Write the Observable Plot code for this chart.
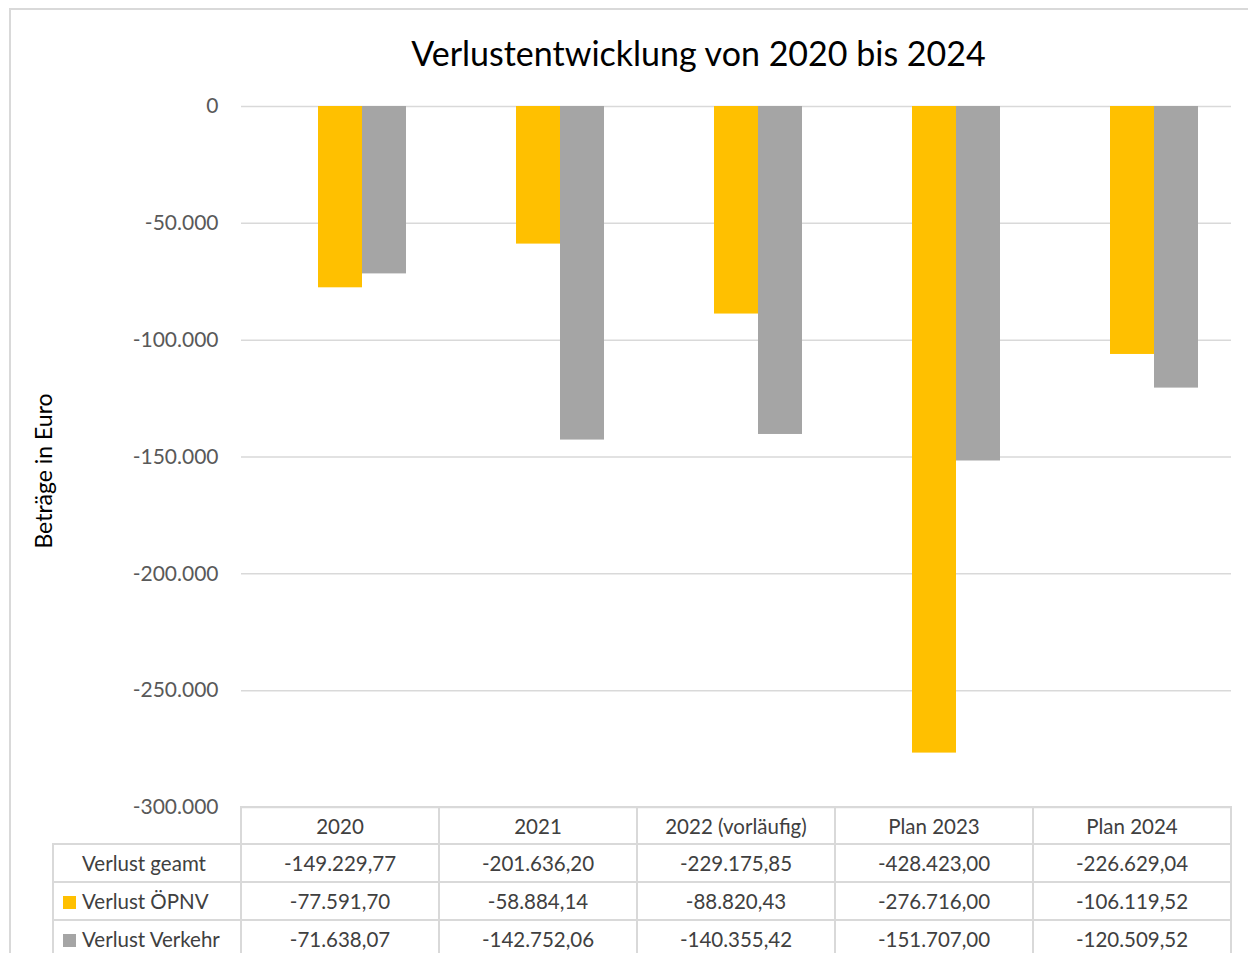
<!DOCTYPE html>
<html>
<head>
<meta charset="utf-8">
<script src="https://cdn.jsdelivr.net/npm/d3@7"></script>
<script src="https://cdn.jsdelivr.net/npm/@observablehq/plot@0.6"></script>
<style>
  html, body { margin: 0; padding: 0; background: #fff; }
  #wrap { position: relative; width: 1248px; height: 953px; overflow: hidden; background: #fff; font-family: Lato, "Open Sans", sans-serif; }
  #frame { position: absolute; left: 9px; top: 8px; width: 1400px; height: 1200px; border: 2px solid #d9d9d9; box-sizing: border-box; }
  #title { position: absolute; left: 0; top: 33px; width: 1397px; text-align: center; font-size: 34px; line-height: 1.2; color: #000; white-space: nowrap; }
  #ylabel { position: absolute; left: 44px; top: 471px; transform: translate(-50%, -50%) rotate(-90deg); font-size: 23px; line-height: 1.2; color: #000; white-space: nowrap; }
  #chart { position: absolute; left: 0; top: 0; }
  #tbl { position: absolute; left: 52px; top: 806px; border-collapse: collapse; table-layout: fixed; font-size: 20.5px; color: #404040; }
  #tbl td { border: 2px solid #d9d9d9; text-align: center; padding: 0; white-space: nowrap; }
  #tbl tr.head td { height: 35px; }
  #tbl tr.body td { height: 36px; }
  #tbl td.corner { border-top: none; border-left: none; }
  #tbl td.lab { text-align: left; padding-left: 9px; }
  .key { display: inline-block; width: 13px; height: 13px; margin-right: 6px; vertical-align: 0px; }
</style>
</head>
<body>
<div id="wrap">
  <div id="frame"></div>
  <div id="chart"></div>
  <div id="title"></div>
  <div id="ylabel"></div>
  <table id="tbl"></table>
</div>
<script>
const titleText = "Verlustentwicklung von 2020 bis 2024";
const yLabelText = "Beträge in Euro";
const categories = ["2020", "2021", "2022 (vorläufig)", "Plan 2023", "Plan 2024"];
const seriesNames = ["Verlust ÖPNV", "Verlust Verkehr"];
const totalLabel = "Verlust geamt";
const opnv = [-77591.70, -58884.14, -88820.43, -276716.00, -106119.52];
const verkehr = [-71638.07, -142752.06, -140355.42, -151707.00, -120509.52];
const gesamt = [-149229.77, -201636.20, -229175.85, -428423.00, -226629.04];
const yTicks = [0, -50000, -100000, -150000, -200000, -250000, -300000];
const colors = ["#FFC000", "#A5A5A5"];

const de = d3.formatLocale({decimal: ",", thousands: ".", grouping: [3], currency: ["", " €"], minus: "-"});
const fmtTick = de.format(",");
const fmtVal = de.format(",.2f");

const data = categories.flatMap((c, i) => [
  {cat: c, series: seriesNames[0], value: opnv[i]},
  {cat: c, series: seriesNames[1], value: verkehr[i]}
]);

const chart = Plot.plot({
  width: 1248,
  height: 808,
  marginLeft: 241,
  marginRight: 17,
  marginTop: 106,
  marginBottom: 1,
  style: {fontFamily: 'Lato, "Open Sans", sans-serif', fontSize: "21px", color: "#595959", background: "transparent", overflow: "visible"},
  fx: {domain: categories, padding: 0, axis: null, label: null},
  x: {domain: seriesNames, paddingInner: 0, paddingOuter: 1.25, align: 0.7, axis: null, label: null},
  y: {domain: [-300000, 0], ticks: yTicks, tickFormat: fmtTick, tickSize: 0, tickPadding: 23, label: null},
  color: {domain: seriesNames, range: colors},
  marks: [
    Plot.ruleY(yTicks, {stroke: "#d9d9d9", strokeWidth: 1.5}),
    Plot.barY(data, {fx: "cat", x: "series", y: "value", fill: "series", inset: 0})
  ]
});
document.getElementById("chart").appendChild(chart);
document.getElementById("title").textContent = titleText;
document.getElementById("ylabel").textContent = yLabelText;

// data table
const tbl = document.getElementById("tbl");
const colgroup = document.createElement("colgroup");
[188, ...categories.map(() => 198)].forEach(w => {
  const col = document.createElement("col");
  col.style.width = w + "px";
  colgroup.appendChild(col);
});
tbl.appendChild(colgroup);

const head = document.createElement("tr");
head.className = "head";
const corner = document.createElement("td");
corner.className = "corner";
head.appendChild(corner);
categories.forEach(c => {
  const td = document.createElement("td");
  td.textContent = c;
  head.appendChild(td);
});
tbl.appendChild(head);

const rows = [
  {label: totalLabel, color: null, values: gesamt},
  {label: seriesNames[0], color: colors[0], values: opnv},
  {label: seriesNames[1], color: colors[1], values: verkehr}
];
rows.forEach(r => {
  const tr = document.createElement("tr");
  tr.className = "body";
  const lab = document.createElement("td");
  lab.className = "lab";
  const key = document.createElement("span");
  key.className = "key";
  key.style.background = r.color || "transparent";
  lab.appendChild(key);
  lab.appendChild(document.createTextNode(r.label));
  tr.appendChild(lab);
  r.values.forEach(v => {
    const td = document.createElement("td");
    td.textContent = fmtVal(v);
    tr.appendChild(td);
  });
  tbl.appendChild(tr);
});
</script>
</body>
</html>
